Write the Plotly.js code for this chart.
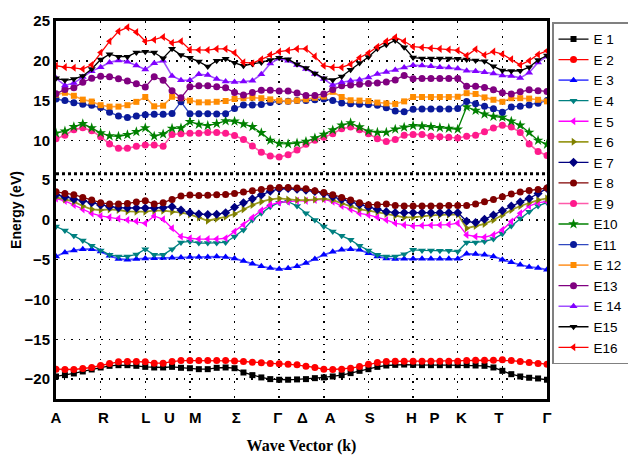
<!DOCTYPE html>
<html><head><meta charset="utf-8">
<script src="https://cdn.plot.ly/plotly-3.0.1.min.js"></script>
<style>html,body{margin:0;padding:0;background:#fff}#chart{width:628px;height:455px}</style>
</head><body><div id="chart"></div>
<script>
const kPath = [0,1,2,3,4,5,6,7,8,9,10,11,12,13,14,15,16,17,18,19,20,21,22,23,24,25,26,27,28,29,30,31,32,33,34,35,36,37,38,39,40,41,42,43,44,45,46,47,48,49,50,51,52,53,54,55];
const kTickPos = [0,5.3,10.05,12.7,15.6,20.2,24.85,27.6,30.7,35.15,39.8,42.4,45.4,49.6,55];
const kTickText = ['A','R','L','U','M','Σ','Γ','Δ','A','S','H','P','K','T','Γ'];
const fermiLevel = 5.8;

const E1 = [-19.67,-19.5,-19.29,-19.04,-18.79,-18.54,-18.33,-18.25,-18.25,-18.33,-18.46,-18.54,-18.54,-18.46,-18.58,-18.63,-18.75,-18.75,-18.58,-18.54,-18.63,-19.17,-19.5,-19.79,-20.0,-20.08,-20.08,-20.04,-20.0,-19.88,-19.79,-19.67,-19.5,-19.25,-18.96,-18.75,-18.46,-18.29,-18.21,-18.17,-18.21,-18.25,-18.25,-18.25,-18.25,-18.25,-18.25,-18.29,-18.33,-18.54,-18.96,-19.38,-19.67,-19.83,-19.92,-20.08];
const E2 = [-18.75,-18.79,-18.79,-18.67,-18.54,-18.29,-18.04,-17.83,-17.79,-17.79,-17.83,-18.0,-18.0,-17.79,-17.67,-17.67,-17.67,-17.67,-17.67,-17.67,-17.71,-17.79,-17.88,-17.96,-18.04,-18.08,-18.13,-18.21,-18.38,-18.54,-18.75,-18.79,-18.75,-18.63,-18.42,-18.13,-17.92,-17.79,-17.75,-17.75,-17.75,-17.75,-17.75,-17.75,-17.75,-17.75,-17.67,-17.63,-17.63,-17.63,-17.58,-17.67,-17.79,-17.92,-18.04,-18.13];
const E3 = [-4.58,-4.08,-3.83,-3.67,-3.67,-3.96,-4.5,-4.9,-5.0,-4.9,-4.83,-4.8,-4.77,-4.75,-4.72,-4.67,-4.67,-4.67,-4.6,-4.67,-4.83,-5.17,-5.5,-5.83,-6.04,-6.17,-6.08,-5.83,-5.42,-4.9,-4.38,-4.0,-3.75,-3.67,-3.75,-4.17,-4.58,-4.83,-4.9,-4.88,-4.88,-4.88,-4.88,-4.88,-4.88,-4.88,-4.25,-4.29,-4.38,-4.58,-5.0,-5.33,-5.63,-5.9,-6.04,-6.25];
const E4 = [-0.83,-1.33,-2.0,-2.58,-3.25,-3.83,-4.38,-4.58,-4.58,-4.33,-3.67,-4.38,-4.38,-3.67,-2.83,-2.7,-2.9,-2.9,-2.9,-2.83,-2.08,-1.25,0,0.83,1.67,2.17,2.3,1.75,0.83,0,-0.83,-1.46,-2.0,-2.5,-3.25,-3.83,-4.38,-4.58,-4.58,-4.3,-3.75,-3.83,-3.83,-3.88,-3.88,-3.96,-2.83,-2.83,-2.7,-2.4,-1.75,-0.75,0.2,1.04,1.75,2.2];
const E5 = [2.7,2.4,1.88,1.33,0.83,0.5,0.33,0.17,0,-0.17,-0.42,0.5,0.08,-1.04,-2.08,-2.3,-2.4,-2.4,-2.4,-2.3,-1.45,-0.6,0.3,1.2,1.9,2.2,2.3,2.4,2.4,2.5,2.58,2.3,1.75,1.33,0.83,0.63,0.33,0,-0.42,-0.63,-0.75,-0.7,-0.67,-0.63,-0.58,-0.4,-1.88,-2.08,-2.17,-1.88,-1.25,-0.2,0.83,1.75,2.17,2.3];
const E6 = [2.83,2.58,2.3,1.75,1.33,1.25,1.33,1.25,1.08,1.04,1.04,1.17,1.17,1.04,0.92,0.7,0.3,-0.1,0.15,0.4,0.75,1.33,1.88,2.3,2.58,2.7,2.58,2.5,2.5,2.58,2.67,2.5,2.08,1.75,1.33,1.17,1.0,0.75,0.54,0.33,0.33,0.5,0.58,0.63,0.67,0.7,-1.04,-0.75,-0.5,0,0.63,1.25,1.75,2.17,2.5,2.7];
const E7 = [3.17,2.9,2.6,2.4,2.17,1.88,1.67,1.54,1.5,1.5,1.5,1.5,1.54,1.67,1.25,0.92,0.75,0.67,0.72,0.9,1.6,2.15,2.65,3.15,3.6,3.9,3.95,3.85,3.75,3.58,3.33,2.9,2.58,2.25,1.92,1.58,1.33,1.04,0.92,0.92,0.92,0.92,0.92,0.92,0.92,0.92,-0.17,-0.33,0.08,0.63,1.17,1.75,2.25,2.7,3.33,3.96];
const E8 = [3.54,3.33,3.17,2.83,2.5,2.17,2.0,2.0,2.08,2.25,2.42,2.0,2.17,2.58,3.0,3.13,3.08,3.1,3.17,3.2,3.33,3.5,3.67,3.83,4.0,4.08,4.08,4.0,3.92,3.67,3.46,3.17,2.83,2.5,2.17,1.92,1.92,2.0,1.8,1.75,1.75,1.75,1.75,1.75,1.8,1.8,1.83,2.0,2.3,2.58,2.92,3.25,3.5,3.7,3.83,4.0];
const E9 = [10.2,10.65,11.35,11.57,11.2,10.47,9.54,9.0,9.0,9.27,9.42,9.42,9.27,10.73,10.83,10.9,10.9,11.0,11.0,10.9,10.6,10.1,9.3,8.5,8.05,7.9,8.2,8.8,9.5,10.0,10.4,10.83,11.46,11.67,11.33,10.83,10.2,9.85,10.1,10.65,10.75,10.75,10.52,10.45,10.38,10.3,10.52,10.65,11.08,11.55,11.9,11.67,11.0,9.55,8.6,8.1];
const E10 = [10.9,11.15,11.7,12.08,11.57,10.93,10.56,10.52,10.7,11.08,11.57,10.52,10.8,11.5,11.55,12.35,12.0,11.85,12.1,12.45,12.4,12.05,11.7,10.95,10.0,9.6,9.55,9.65,9.85,10.3,10.75,11.3,11.9,12.2,11.67,11.15,11.0,11.0,11.4,11.65,11.85,11.8,11.7,11.6,11.5,11.4,14.2,13.75,13.3,13.0,12.9,12.4,11.9,11.0,10.0,9.5];
const E11 = [15.2,15.0,14.73,14.54,14.42,14.13,13.54,13.06,12.87,13.06,13.22,13.27,13.27,13.37,14.84,13.33,13.33,13.33,13.3,13.35,14.0,14.46,14.46,14.5,14.75,14.9,14.9,15.0,15.0,15.1,15.2,15.0,14.7,14.6,14.55,14.5,14.4,14.1,13.7,13.6,13.9,13.95,13.95,13.95,13.95,14.0,14.88,14.6,14.28,13.96,13.54,14.2,14.3,14.45,14.68,15.0];
const E12 = [15.75,15.98,15.6,15.12,14.88,14.42,14.24,14.24,14.42,14.84,15.45,14.28,14.36,15.48,15.3,15.0,14.78,14.78,14.85,14.95,15.2,15.3,15.36,15.3,15.15,15.0,14.9,15.0,15.15,15.35,15.5,16.1,15.45,15.04,15.0,14.94,14.75,14.65,14.58,14.9,15.45,15.45,15.45,15.45,15.45,15.48,15.93,15.83,15.4,15.1,14.85,15.3,15.3,15.25,15.1,14.9];
const E13 = [15.85,16.4,16.6,17.3,17.8,18.05,18.0,17.75,17.45,17.1,16.7,18.0,17.55,16.25,15.35,16.75,16.85,16.85,16.75,16.6,16.0,15.7,16.0,16.3,16.3,16.2,16.2,15.96,15.65,15.65,15.83,16.4,16.85,16.95,17.05,17.15,17.2,17.35,17.6,18.15,17.75,17.78,17.78,17.78,17.78,17.78,16.8,16.8,16.65,16.35,15.98,15.83,16.1,16.35,16.25,16.15];
const E14 = [17.8,16.9,17.2,17.95,18.7,19.2,19.8,20.05,19.88,19.42,18.9,19.7,20.0,18.1,17.55,17.55,18.3,18.2,17.7,17.4,17.35,17.4,17.5,18.3,19.65,20.3,20.0,19.46,18.96,18.33,17.7,16.95,17.3,17.5,17.62,17.9,18.35,18.6,18.85,19.15,19.45,19.4,19.3,19.2,19.15,19.02,18.75,18.7,18.55,18.4,18.15,18.1,17.85,18.5,19.8,20.55];
const E15 = [17.8,17.55,17.7,18.1,18.96,20.15,20.83,20.52,20.52,21.04,21.15,21.04,20.32,21.5,20.72,20.37,19.9,19.27,20.0,20.25,19.75,19.38,19.6,19.8,20.1,20.37,20.2,19.55,19.1,18.4,17.8,17.6,18.02,18.88,19.73,20.48,21.5,22.03,22.55,21.7,20.4,20.3,20.3,20.3,20.3,20.25,20.15,20.05,19.95,19.3,18.78,18.72,18.75,19.2,20.1,20.65];
const E16 = [19.38,19.2,19.12,18.96,19.5,21.04,22.45,23.7,24.2,23.6,22.45,22.65,23.0,22.25,22.45,21.4,21.35,21.35,21.5,21.5,21.0,19.8,19.7,20.2,20.75,21.15,21.3,21.5,21.5,20.55,19.38,19.17,19.17,19.58,20.38,20.97,21.77,22.45,22.95,22.45,21.77,21.67,21.58,21.5,21.4,21.3,20.65,21.46,20.72,21.15,20.83,20.2,19.48,20.0,20.8,21.25];

const bandNames = ['E 1','E 2','E 3','E 4','E 5','E 6','E 7','E 8','E 9','E10','E11','E 12','E13','E 14','E15','E16'];
const bands = [E1,E2,E3,E4,E5,E6,E7,E8,E9,E10,E11,E12,E13,E14,E15,E16];
const lineColors = ['#000000','#ff0000','#5050ff','#008080','#ff00ff','#9a9a20','#000080','#800000','#ff5aaa','#008000','#3048c0','#ffa040','#800080','#a050ff','#000000','#ff0000'];
const markerColors = ['#000000','#ff0000','#0000ff','#008080','#ff00ff','#808000','#000080','#800000','#ff1a8c','#008000','#0a1a9a','#ff8c00','#800080','#8000ff','#000000','#ff0000'];
const symbols = ['square','circle','triangle-up','triangle-down','triangle-left','triangle-right','diamond','circle','circle','star','circle','square','circle','triangle-up','triangle-down','triangle-left'];
const lineWidths = [1.3,1.3,1.8,1.3,1.3,1.8,1.3,1.3,1.6,1.3,1.3,1.6,1.3,1.6,1.3,1.3];
const markerSizes = [6,7,7,7,7,7,7,7,7,8,7,6,7,7,7,7];

const traces = bands.map((b, i) => ({
  x: kPath, y: b, name: bandNames[i], type: 'scatter', mode: 'lines+markers',
  line: {color: lineColors[i], width: lineWidths[i]},
  marker: {symbol: symbols[i], color: markerColors[i], size: markerSizes[i], line: {width: 0}}
}));

const boldSans = {family: 'Liberation Sans, Arial, sans-serif', weight: 'bold', color: '#000'};
const layout = {
  width: 628, height: 455,
  margin: {l: 56, r: 81, t: 21, b: 56},
  paper_bgcolor: '#fff', plot_bgcolor: '#fff',
  showlegend: true,
  legend: {xref: 'container', yref: 'container', x: 0.879, y: 0.951, xanchor: 'left', yanchor: 'top',
    maxheight: 420,
    bgcolor: '#fff', bordercolor: '#808080', borderwidth: 1.5,
    font: {family: 'Liberation Sans, Arial, sans-serif', size: 13.5, color: '#000'}},
  xaxis: {range: [0, 55], tickmode: 'array', tickvals: kTickPos, ticktext: kTickText,
    showgrid: false, zeroline: false, showline: true, mirror: true, linewidth: 3, linecolor: '#000',
    ticks: 'outside', ticklen: 3, tickcolor: 'rgba(0,0,0,0)',
    tickfont: Object.assign({size: 15}, boldSans),
    minor: {tick0: 0, dtick: 5, showgrid: true, gridcolor: '#000', gridwidth: 1.5, griddash: '1.5px,6px', ticks: ''},
    title: {text: 'Wave Vector (k)', standoff: 16, font: {family: 'Liberation Serif, Times New Roman, serif', weight: 'bold', size: 16, color: '#000'}}},
  yaxis: {range: [-22.5, 25], tick0: 0, dtick: 5, showgrid: true, gridcolor: '#000', gridwidth: 1.5, griddash: '1.5px,6px',
    zeroline: false, showline: true, mirror: true, linewidth: 3, linecolor: '#000',
    ticks: '',
    tickfont: Object.assign({size: 15}, boldSans),
    title: {text: 'Energy (eV)', standoff: 0, font: Object.assign({size: 14}, boldSans)}},
  shapes: [{type: 'line', xref: 'paper', x0: 0, x1: 1, yref: 'y', y0: fermiLevel, y1: fermiLevel,
    line: {color: '#000', width: 3, dash: 'dot'}, layer: 'below'}]
};
Plotly.newPlot('chart', traces, layout, {displayModeBar: false, staticPlot: true});
</script></body></html>
